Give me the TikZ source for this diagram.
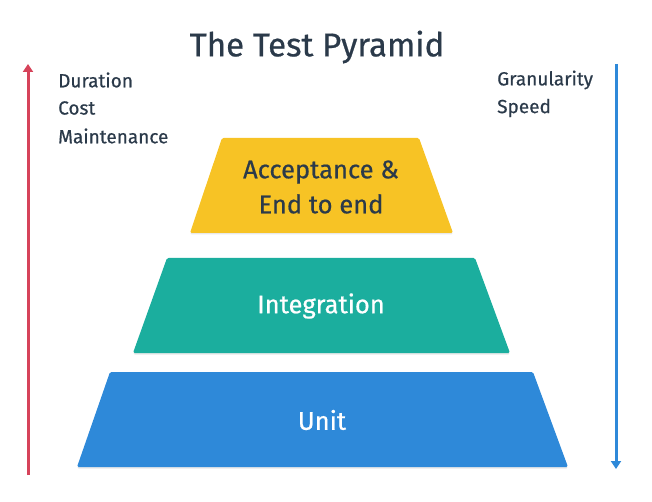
\documentclass[tikz,border=0pt]{standalone}
\usepackage{fontspec}
\setmainfont{Fira Sans}[FakeBold=0.6, UprightFeatures={FakeBold=0.6}]
\usetikzlibrary{shadows,arrows.meta}
\definecolor{txt}{HTML}{2B3A4A}
\definecolor{redarr}{HTML}{D6435A}
\definecolor{bluearr}{HTML}{2E89D9}
\definecolor{ylw}{HTML}{F7C325}
\definecolor{teal}{HTML}{1BAE9E}
\definecolor{unitblue}{HTML}{2E89D9}
\tikzset{
  tier/.style={rounded corners=1.5pt, drop shadow={opacity=0.18, shadow xshift=0pt, shadow yshift=-1.5pt}},
  side/.style={anchor=west, text=txt, font=\fontsize{19}{22}\selectfont, inner sep=0pt},
  tierlabel/.style={font=\fontsize{25.5}{35}\selectfont, align=center, inner sep=0pt},
  arr/.style={line width=3pt, -{Triangle[length=8pt,width=10pt]}},
}
\begin{document}
\begin{tikzpicture}[x=1pt,y=-1pt]
\useasboundingbox (0,0) rectangle (652,502);
% title
\node[text=txt, font=\fontsize{33}{38}\selectfont, inner sep=0pt] (title) at (317,47) {The Test Pyramid};
% arrows
\coordinate (rb) at (28,475);
\coordinate (rt) at (28,64);
\draw[arr, redarr] (rb) -- (rt);
\coordinate (bt) at (616,64);
\coordinate (bb) at (616,469);
\draw[arr, bluearr] (bt) -- (bb);
% side labels
\node[side] (dur) at (58,80) {Duration};
\node[side] (cost) at (58,108) {Cost};
\node[side] (mnt) at (58,136) {Maintenance};
\node[side] (gran) at (497,80) {Granularity};
\node[side] (spd) at (497,108) {Speed};
% tiers
\fill[tier, ylw] (222,138) -- (419,138) -- (453,233) -- (190,233) -- cycle;
\fill[tier, teal] (167,258) -- (475,258) -- (510,353) -- (133,353) -- cycle;
\fill[tier, unitblue] (110,372) -- (533,372) -- (568,467) -- (77,467) -- cycle;
\node[tierlabel, text=txt] (acc) at (321,187) {Acceptance \&\\End to end};
\node[tierlabel, text=white] (int) at (321,306) {Integration};
\node[tierlabel, text=white] (unit) at (322,420) {Unit};
\end{tikzpicture}
\end{document}
